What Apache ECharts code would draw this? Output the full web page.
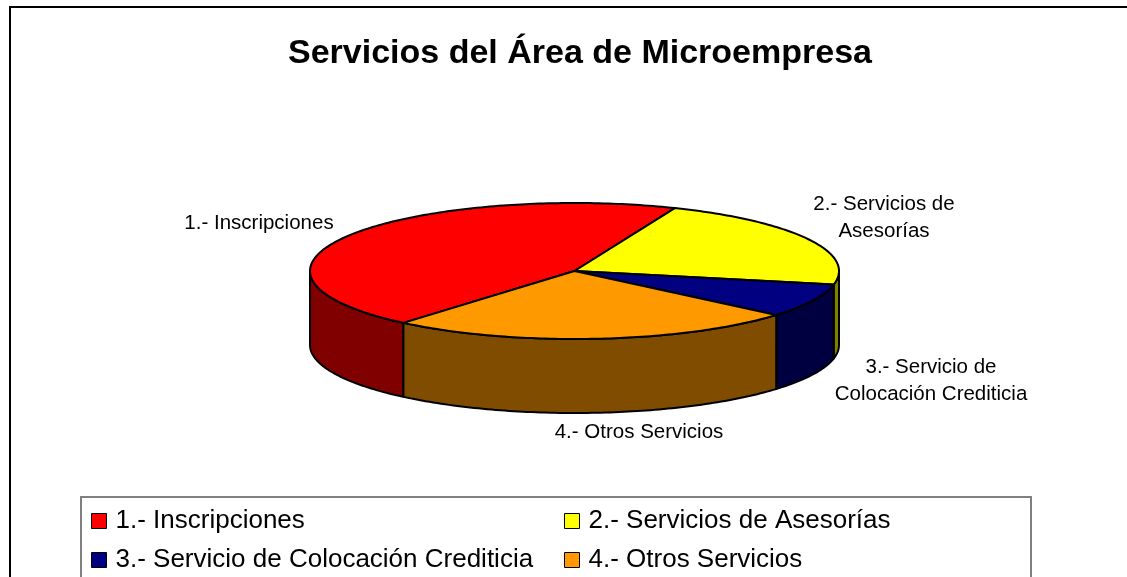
<!DOCTYPE html>
<html>
<head>
<meta charset="utf-8">
<script src="https://cdn.jsdelivr.net/npm/echarts@6/dist/echarts.min.js"></script>
<style>
  html, body { margin: 0; padding: 0; background: #fff; }
  #chart { width: 1127px; height: 577px; }
</style>
</head>
<body>
<div id="chart"></div>
<script>
// data
const categories = [
  '1.- Inscripciones',
  '2.- Servicios de Asesorías',
  '3.- Servicio de Colocación Crediticia',
  '4.- Otros Servicios'
];
const values = [45, 22, 8, 25];
const sliceLabels = [
  '1.- Inscripciones',
  '2.- Servicios de\nAsesorías',
  '3.- Servicio de\nColocación Crediticia',
  '4.- Otros Servicios'
];

// styles
const topColors = ['#FF0000', '#FFFF00', '#000080', '#FF9900'];
const sideColors = ['#800000', '#808000', '#000040', '#804C00'];
const FONT = '"Liberation Sans", Arial, sans-serif';

// pie layout (pixels)
const pie = { cx: 574.5, cy: 271, rx: 264.5, ry: 68, depth: 74, start: 229.7 };
const labelPos = [[259, 223], [884, 218], [931, 381], [639, 432]];

const total = values.reduce((a, b) => a + b, 0);

function ellipsePt(deg, dy) {
  const r = deg * Math.PI / 180;
  return [pie.cx + pie.rx * Math.cos(r), pie.cy - pie.ry * Math.sin(r) + dy];
}
function arcPts(a, b, dy) {
  const n = Math.max(2, Math.ceil(Math.abs(b - a)));
  const pts = [];
  for (let i = 0; i <= n; i++) pts.push(ellipsePt(a + (b - a) * i / n, dy));
  return pts;
}

function renderSlice(params, api) {
  const i = params.seriesIndex;
  const before = values.slice(0, i).reduce((a, b) => a + b, 0);
  const a1 = pie.start - before / total * 360;
  const a2 = a1 - api.value(0) / total * 360;
  const children = [];
  // outer wall, only the front half is visible
  for (let k = -1; k <= 1; k++) {
    const lo = Math.max(a2, 180 + 360 * k);
    const hi = Math.min(a1, 360 + 360 * k);
    if (hi > lo) {
      const pts = arcPts(lo, hi, 0).concat(arcPts(hi, lo, pie.depth));
      children.push({
        type: 'polygon', z2: 1, shape: { points: pts },
        style: { fill: sideColors[i], stroke: '#000', lineWidth: 2, lineJoin: 'round' }
      });
    }
  }
  const top = [[pie.cx, pie.cy]].concat(arcPts(a1, a2, 0));
  children.push({
    type: 'polygon', z2: 2, shape: { points: top },
    style: { fill: topColors[i], stroke: '#000', lineWidth: 2, lineJoin: 'round' }
  });
  children.push({
    type: 'text', z2: 3, x: labelPos[i][0], y: labelPos[i][1],
    style: {
      text: sliceLabels[i], fill: '#000', font: '20.5px ' + FONT,
      align: 'center', verticalAlign: 'middle', lineHeight: 27
    }
  });
  return { type: 'group', children: children };
}

const legendBase = {
  orient: 'vertical', top: 508, padding: 0, itemGap: 13,
  icon: 'rect', itemWidth: 15, itemHeight: 15, selectedMode: false,
  itemStyle: { borderColor: '#000', borderWidth: 1 },
  textStyle: { fontFamily: FONT, fontSize: 26, lineHeight: 26, color: '#000', padding: [0, 0, 0, 4] }
};

const chart = echarts.init(document.getElementById('chart'));
chart.setOption({
  animation: false,
  title: {
    text: 'Servicios del Área de Microempresa',
    left: 575, top: 32, textAlign: 'center',
    textStyle: { fontFamily: FONT, fontSize: 34, fontWeight: 'bold', color: '#000' }
  },
  legend: [
    Object.assign({}, legendBase, { data: [categories[0], categories[2]], left: 91 }),
    Object.assign({}, legendBase, { data: [categories[1], categories[3]], left: 564 })
  ],
  graphic: [
    {
      type: 'rect', shape: { x: 10, y: 7, width: 1300, height: 700 },
      style: { fill: 'none', stroke: '#000', lineWidth: 2 }
    },
    {
      type: 'rect', shape: { x: 81, y: 497, width: 950, height: 200 },
      style: { fill: 'none', stroke: '#808080', lineWidth: 2 }
    }
  ],
  series: categories.map((name, i) => ({
    type: 'custom',
    name: name,
    coordinateSystem: 'none',
    itemStyle: { color: topColors[i] },
    renderItem: renderSlice,
    data: [values[i]]
  }))
});
</script>
</body>
</html>
